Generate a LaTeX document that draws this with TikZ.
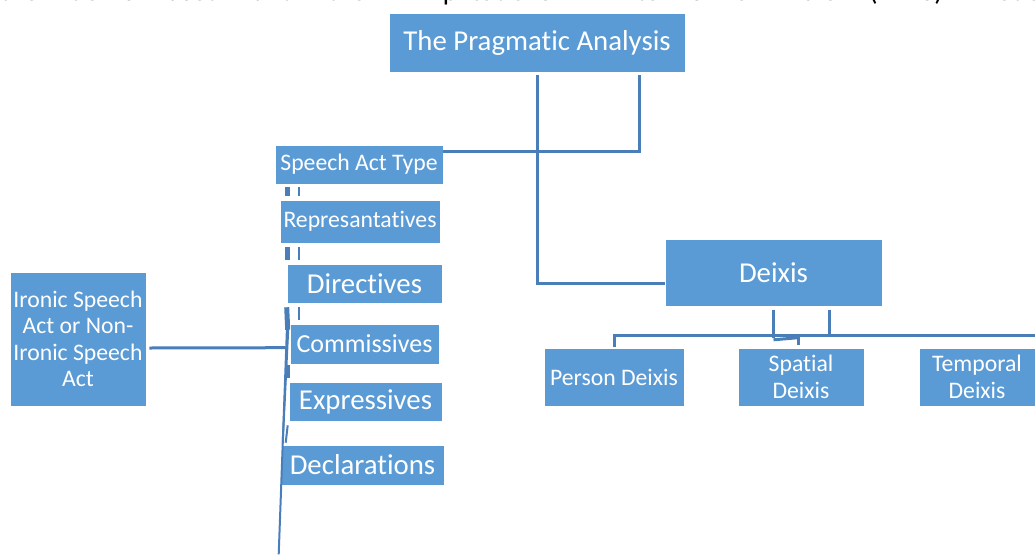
\documentclass[tikz,border=0pt]{standalone}
\usepackage{fontspec}
\setmainfont{Carlito}[Ligatures=NoCommon, RawFeature={-calt;-dlig;-clig}]
\usetikzlibrary{calc}
\definecolor{boxblue}{HTML}{5B9BD5}
\definecolor{lineblue}{HTML}{4A7EB8}
\tikzset{
  box/.style={draw=white, line width=0.6pt, fill=boxblue, text=white, inner sep=0pt, align=center},
  small/.style={font=\fontsize{23.7}{26.3}\selectfont},
  mid/.style={font=\fontsize{26}{28}\selectfont},
  big/.style={font=\fontsize{28.8}{30}\selectfont},
  conn/.style={draw=lineblue, line width=3pt},
  thin/.style={draw=lineblue, line width=2pt},
  fat/.style={draw=lineblue, line width=5pt},
}
\begin{document}
\begin{tikzpicture}[x=1pt,y=-1pt]
\useasboundingbox (0,0) rectangle (1035,554);
\clip (0,0) rectangle (1035,554);
% clipped line of body text above the diagram
\node[anchor=base west, inner sep=0pt, font=\fontsize{28}{32}\selectfont] (toptext) at (0,1)
  {\makebox[1047pt][s]{the deixis used and their implications in terms of Yule (1996) model}};
% boxes
\node[box, big, minimum width=296pt, minimum height=59pt] (pa) at (537,42.5) {The Pragmatic Analysis};
\node[box, small, minimum width=168pt, minimum height=39pt] (sat) at (359,164.5) {Speech Act Type};
\node[box, small, minimum width=160pt, minimum height=43pt] (rep) at (360,221.5) {Represantatives};
\node[box, big, minimum width=155pt, minimum height=39pt] (dir) at (364.5,283.5) {Directives};
\node[box, mid, minimum width=149pt, minimum height=40pt] (com) at (364.5,344) {Commissives};
\node[box, big, minimum width=153pt, minimum height=39pt] (exp) at (365.5,401.5) {Expressives};
\node[box, big, minimum width=163pt, minimum height=40pt] (dec) at (362.5,465) {Declarations};
\node[box, small, minimum width=136pt, minimum height=134pt] (iro) at (78,339) {Ironic Speech\\Act or Non-\\Ironic Speech\\Act};
\node[box, big, minimum width=217pt, minimum height=67pt] (dx) at (773.5,272.5) {Deixis};
\node[box, small, minimum width=140pt, minimum height=58pt] (per) at (614,377) {Person Deixis};
\node[box, small, minimum width=126pt, minimum height=58pt] (spa) at (801,377) {Spatial\\Deixis};
\node[box, small, minimum width=116pt, minimum height=58pt] (tem) at (977,377) {Temporal\\Deixis};
% connectors from the top box
\draw[conn] ([shift={(0,3)}]pa.south) |- ([shift={(0,10.5)}]dx.west);
\draw[conn] ([shift={(102,3)}]pa.south) |- ([shift={(0,-13.5)}]sat.east);
% deixis branches
\coordinate (hr) at ([shift={(426,-12)}]per.north);
\draw[conn] ([shift={(0,4)}]dx.south) -- ([shift={(0,32)}]dx.south);
\draw[conn] ([shift={(56,4)}]dx.south) -- ([shift={(56,30)}]dx.south);
\draw[conn] (per.north) ++(0,-1) |- (hr);
\draw[conn] ([shift={(0,33.5)}]dx.south) -- ([shift={(-3,-10)}]spa.north);
\draw[conn] ([shift={(-3,-12)}]spa.north) -- ([shift={(-3,-3)}]spa.north);
% left column marks between boxes
\draw[fat]  ([shift={(13,3)}]sat.south west) -- ([shift={(8,-4)}]rep.north west);
\draw[thin] ([shift={(24,3)}]sat.south west) -- ([shift={(19,-4)}]rep.north west);
\draw[fat]  ([shift={(8,4)}]rep.south west) -- ([shift={(1,-4)}]dir.north west);
\draw[thin] ([shift={(19,4)}]rep.south west) -- ([shift={(12,-4)}]dir.north west);
\draw[thin] ([shift={(12,4)}]dir.south west) -- ([shift={(9,-4)}]com.north west);
\draw[fat]  ([shift={(0,4)}]dir.south west) -- ([shift={(-2,6)}]com.north west);
\draw[fat]  ([shift={(-2,1)}]com.south west) -- ([shift={(-1,-4)}]exp.north west);
\draw[thin] ([shift={(-1,4)}]exp.south west) -- ([shift={(5,-2)}]dec.north west);
% spine and ironic link
\coordinate (spt) at ([shift={(1,4)}]dir.south west);
\coordinate (spb) at ([shift={(-2,69)}]dec.south west);
\coordinate (sj) at ([shift={(-4,24)}]com.north west);
\draw[thin] (spt) -- (spb);
\draw[thin] ([shift={(-1,-4)}]com.north west) -- ([shift={(2,-2)}]dec.north west);
\draw[conn] ([shift={(3,9)}]iro.east) -- (sj);
\end{tikzpicture}
\end{document}
